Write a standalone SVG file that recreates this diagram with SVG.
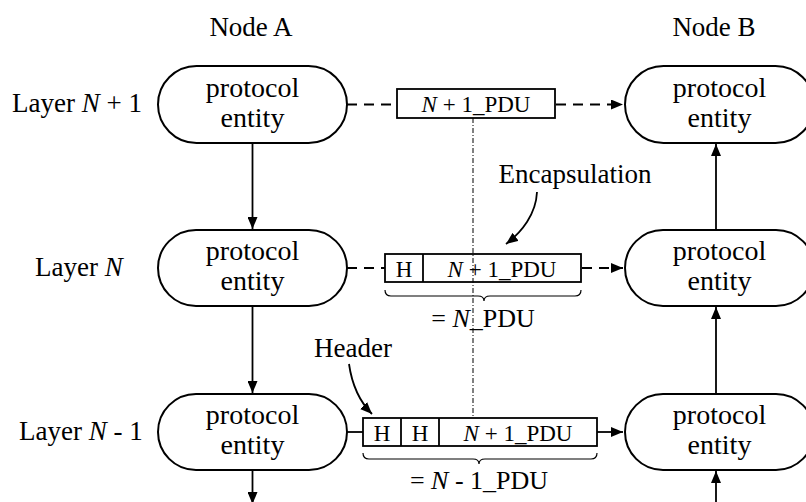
<svg xmlns="http://www.w3.org/2000/svg" width="806" height="502" viewBox="0 0 806 502">
<style>
text{font-family:"Liberation Serif","Times New Roman",serif;fill:#000}
.lbl{font-size:27px}
.ent{font-size:28px;text-anchor:middle}
.box{font-size:23px;text-anchor:middle}
.pdu{font-size:26px;text-anchor:middle}
.it{font-style:italic}
.stad{fill:#fff;stroke:#000;stroke-width:2}
.rect{fill:none;stroke:#000;stroke-width:1.8}
.ln{fill:none;stroke:#000;stroke-width:1.8}
.dash{fill:none;stroke:#000;stroke-width:1.8;stroke-dasharray:10 7}
.dd{fill:none;stroke:#000;stroke-width:1;stroke-dasharray:5 2 1 2}
.brace{fill:none;stroke:#000;stroke-width:1.2}
</style>
<defs>
<marker id="ah" viewBox="0 0 12 10" refX="12" refY="5" markerWidth="12" markerHeight="10" markerUnits="userSpaceOnUse" orient="auto">
<path d="M0,0 L12,5 L0,10 Z" fill="#000"/>
</marker>
</defs>

<text class="lbl" x="251" y="36" text-anchor="middle">Node A</text>
<text class="lbl" x="714" y="36" text-anchor="middle">Node B</text>
<text class="lbl" x="12" y="112">Layer <tspan class="it">N</tspan> + 1</text>
<text class="lbl" x="35" y="276">Layer <tspan class="it">N</tspan></text>
<text class="lbl" x="19" y="440">Layer <tspan class="it">N</tspan> - 1</text>

<g id="connectors">
<line class="dd" x1="473" y1="118" x2="473" y2="418"/>
<line class="dash" x1="347" y1="104.5" x2="397" y2="104.5"/>
<line class="dash" x1="556" y1="104.5" x2="623" y2="104.5" marker-end="url(#ah)"/>
<line class="dash" x1="347" y1="268" x2="385" y2="268"/>
<line class="dash" x1="582" y1="268" x2="623" y2="268" stroke-dasharray="10 5" marker-end="url(#ah)"/>
<line class="ln" x1="347" y1="432" x2="363" y2="432"/>
<line class="ln" x1="597" y1="432" x2="623" y2="432" marker-end="url(#ah)"/>
<line class="ln" x1="252.5" y1="143" x2="252.5" y2="229" marker-end="url(#ah)"/>
<line class="ln" x1="252.5" y1="306" x2="252.5" y2="393" marker-end="url(#ah)"/>
<line class="ln" x1="252.5" y1="470" x2="252.5" y2="504" marker-end="url(#ah)"/>
<line class="ln" x1="716" y1="230" x2="716" y2="144" marker-end="url(#ah)"/>
<line class="ln" x1="716" y1="394" x2="716" y2="307" marker-end="url(#ah)"/>
<line class="ln" x1="716" y1="502" x2="716" y2="471" marker-end="url(#ah)"/>
<path class="ln" d="M537,192 C536,214 522,232 506,244" marker-end="url(#ah)"/>
<path class="ln" d="M349,364 C352,385 359,401 372,414" marker-end="url(#ah)"/>
</g>

<g id="nodeA1"><rect class="stad" x="158" y="66" width="189" height="77" rx="38.5"/>
<text class="ent" x="252.5" y="97">protocol</text><text class="ent" x="252.5" y="127">entity</text></g>
<g id="nodeA2"><rect class="stad" x="158" y="230" width="189" height="76" rx="38"/>
<text class="ent" x="252.5" y="260">protocol</text><text class="ent" x="252.5" y="290">entity</text></g>
<g id="nodeA3"><rect class="stad" x="158" y="394" width="189" height="76" rx="38"/>
<text class="ent" x="252.5" y="424">protocol</text><text class="ent" x="252.5" y="454">entity</text></g>
<g id="nodeB1"><rect class="stad" x="625" y="66" width="189" height="77" rx="38.5"/>
<text class="ent" x="719.5" y="97">protocol</text><text class="ent" x="719.5" y="127">entity</text></g>
<g id="nodeB2"><rect class="stad" x="625" y="230" width="189" height="76" rx="38"/>
<text class="ent" x="719.5" y="260">protocol</text><text class="ent" x="719.5" y="290">entity</text></g>
<g id="nodeB3"><rect class="stad" x="625" y="394" width="189" height="76" rx="38"/>
<text class="ent" x="719.5" y="424">protocol</text><text class="ent" x="719.5" y="454">entity</text></g>

<g id="pdu1"><rect class="rect" x="397" y="89" width="158" height="29"/>
<text class="box" x="476" y="112"><tspan class="it">N</tspan> + 1_PDU</text></g>

<g id="pdu2"><rect class="rect" x="385" y="254" width="196" height="28"/>
<line class="rect" x1="423" y1="254" x2="423" y2="282"/>
<text class="box" x="404" y="276.5">H</text>
<text class="box" x="502" y="276.5"><tspan class="it">N</tspan> + 1_PDU</text>
<path class="brace" d="M385,290 Q385,296 391,296 L478,296 Q484,296 484,301 Q484,296 490,296 L575,296 Q581,296 581,290"/>
<text class="pdu" x="483" y="327">= <tspan class="it">N</tspan>_PDU</text></g>

<g id="pdu3"><rect class="rect" x="363" y="418" width="234" height="28"/>
<line class="rect" x1="401" y1="418" x2="401" y2="446"/>
<line class="rect" x1="439" y1="418" x2="439" y2="446"/>
<text class="box" x="382" y="440.5">H</text>
<text class="box" x="420" y="440.5">H</text>
<text class="box" x="518" y="440.5"><tspan class="it">N</tspan> + 1_PDU</text>
<path class="brace" d="M363,453 Q363,459 369,459 L473,459 Q479,459 479,464 Q479,459 485,459 L591,459 Q597,459 597,453"/>
<text class="pdu" x="479" y="489">= <tspan class="it">N</tspan> - 1_PDU</text></g>

<g id="notes">
<text class="lbl" x="575" y="183" text-anchor="middle">Encapsulation</text>
<text class="lbl" x="353" y="357" text-anchor="middle">Header</text>
</g>
</svg>
